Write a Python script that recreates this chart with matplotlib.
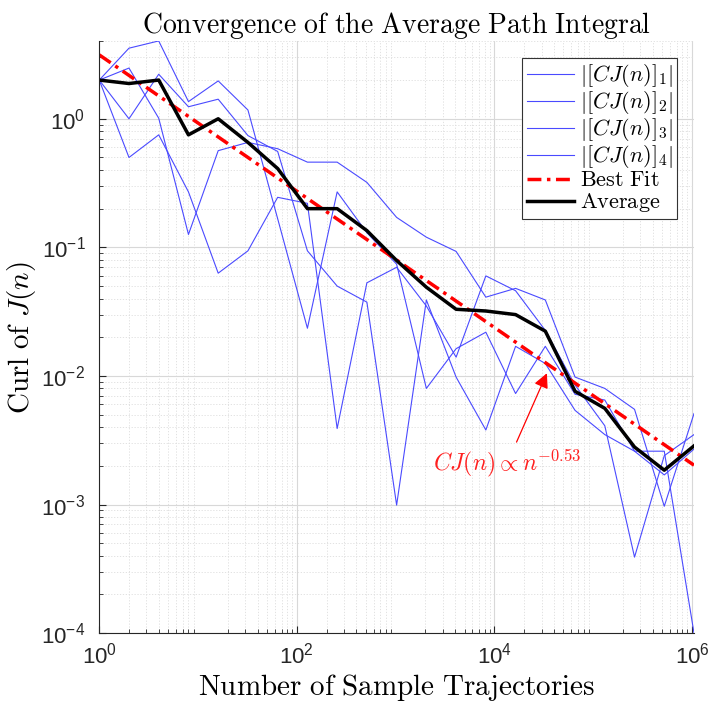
import numpy as np
import matplotlib
matplotlib.use('Agg')
import matplotlib.pyplot as plt

plt.rcParams['mathtext.fontset'] = 'cm'
plt.rcParams['font.family'] = ['Liberation Sans', 'DejaVu Sans']

# sample counts n = 2^k, k = 0..20
k_vals = np.arange(21)
n_vals = 2.0 ** k_vals

# |[CJ(n)]_i|
cj_1 = [2.0, 3.54, 4.03, 1.36, 1.97, 1.17, 0.167, 0.0235, 0.27, 0.13, 0.074,
        0.008, 0.0163, 0.0219, 0.0073, 0.017, 0.0072, 0.0065, 0.0026, 0.0017, 0.0027]
cj_2 = [2.0, 2.48, 1.01, 0.126, 0.565, 0.655, 0.585, 0.46, 0.46, 0.32, 0.171,
        0.12, 0.093, 0.041, 0.048, 0.039, 0.0098, 0.0080, 0.0055, 0.00097, 0.0051]
cj_3 = [2.0, 1.0, 2.22, 1.24, 1.42, 0.74, 0.557, 0.094, 0.050, 0.0375, 0.00099,
        0.039, 0.0098, 0.0038, 0.017, 0.0125, 0.0054, 0.0035, 0.0026, 0.0026, 0.0001]
cj_4 = [2.0, 0.50, 0.75, 0.27, 0.063, 0.094, 0.245, 0.22, 0.0039, 0.053, 0.070,
        0.035, 0.014, 0.060, 0.046, 0.0226, 0.0085, 0.0041, 0.00039, 0.0024, 0.0035]
cj_avg = [2.0, 1.88, 2.0, 0.75, 1.0, 0.655, 0.41, 0.20, 0.20, 0.135, 0.079,
          0.049, 0.033, 0.032, 0.030, 0.0223, 0.0076, 0.0056, 0.0028, 0.00185, 0.00286]

# best fit CJ(n) = c * n^p
fit_coef = 3.14
fit_exp = -0.53
fit_vals = fit_coef * n_vals ** fit_exp

blue = '#4a4aff'

fig = plt.figure(figsize=(7.14, 7.13), dpi=100)
ax = fig.add_axes([0.139, 0.112, 0.833, 0.830])

for i, s in enumerate([cj_1, cj_2, cj_3, cj_4]):
    ax.plot(n_vals, s, color=blue, lw=0.8, label=r'$|[CJ(n)]_{%d}|$' % (i + 1))
ax.plot(n_vals, fit_vals, color='red', lw=2.5, dashes=(4, 1.6, 1, 1.6), label=r'$\mathrm{Best\ Fit}$')
ax.plot(n_vals, cj_avg, color='black', lw=2.5, label=r'$\mathrm{Average}$')

ax.set_xscale('log')
ax.set_yscale('log')
ax.set_xlim(1, 2 ** 20)
ax.set_ylim(1e-4, 4)
ax.set_xticks([1, 1e2, 1e4, 1e6])

ax.grid(True, which='major', color='#d8d8d8', lw=0.8, ls='-')
ax.grid(True, which='minor', color='#dddddd', lw=0.6, ls=(0, (1.5, 2)))
ax.set_axisbelow(True)

for side in ['top', 'right']:
    ax.spines[side].set_visible(False)
for side in ['left', 'bottom']:
    ax.spines[side].set_color('#262626')
    ax.spines[side].set_linewidth(0.8)
ax.tick_params(which='both', direction='in', colors='#262626', labelsize=16)
ax.tick_params(which='major', length=5)
ax.tick_params(which='minor', length=3)
ax.tick_params(axis='y', pad=10)
ax.tick_params(axis='x', pad=7)

ax.set_title(r'$\mathrm{Convergence\ of\ the\ Average\ Path\ Integral}$', fontsize=20, pad=5)
ax.set_xlabel(r'$\mathrm{Number\ of\ Sample\ Trajectories}$', fontsize=21, labelpad=2)
ax.set_ylabel(r'$\mathrm{Curl\ of\ }J(n)$', fontsize=21, labelpad=2)

ax.annotate(r'$CJ(n) \propto n^{-0.53}$', xy=(3.4e4, 0.0105), xytext=(1.35e4, 0.0021),
            color='#ff2020', fontsize=17, ha='center', va='center',
            arrowprops=dict(arrowstyle='-|>', color='red', lw=0.9, mutation_scale=22,
                            shrinkA=2, shrinkB=0))

leg = ax.legend(loc='upper right', fontsize=16, fancybox=False, framealpha=1,
                edgecolor='#333333', handlelength=2.15, borderaxespad=0.75,
                labelspacing=0.0, handletextpad=0.25, borderpad=0.2)
leg.get_frame().set_linewidth(0.8)

fig.savefig('out.png', dpi=100)
